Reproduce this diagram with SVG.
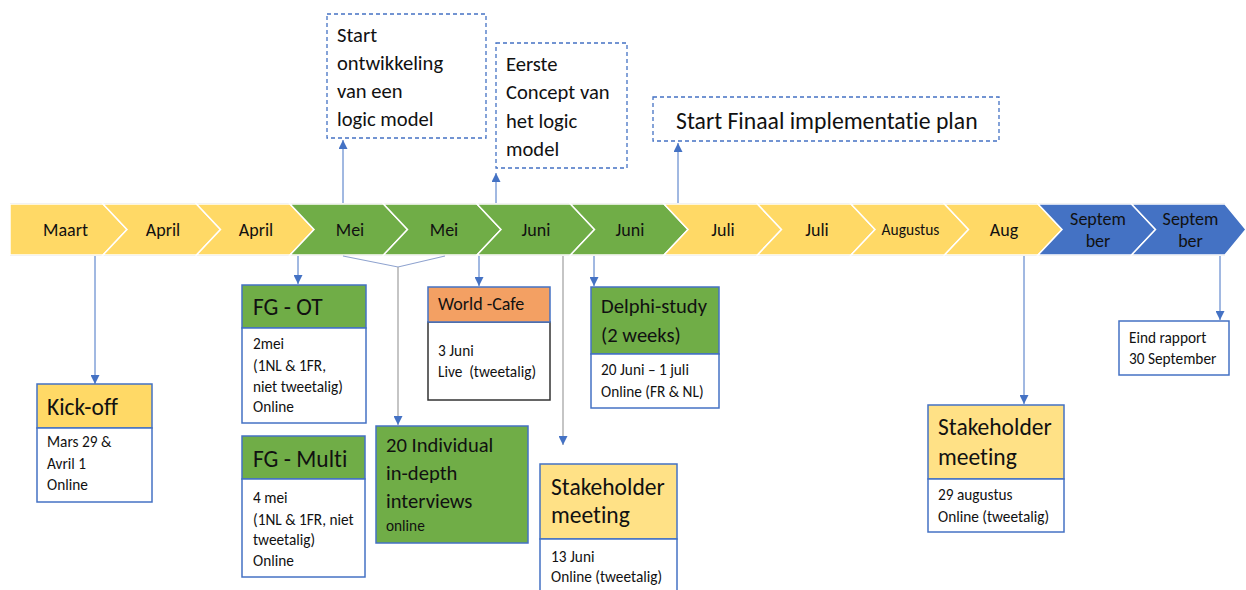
<svg xmlns="http://www.w3.org/2000/svg" width="1246" height="590" viewBox="0 0 1246 590">
<defs>
<style>
text{font-family:Carlito,Lato,"Liberation Sans",sans-serif;fill:#111111;font-variant-ligatures:none}
.band{font-size:18px;text-anchor:middle}
.chev{stroke:#ffffff;stroke-width:1.5}
.y{fill:#FFD966}.g{fill:#70AD47}.b{fill:#4472C4}
.box{stroke:#4472C4;stroke-width:1.5}
.white{fill:#ffffff}
.dash{fill:#ffffff;stroke:#4472C4;stroke-width:1.3;stroke-dasharray:4 3}
.big{font-size:20.6px}
.head{font-size:23.5px}
.body{font-size:15.3px}
.con{fill:none;stroke:#4472C4;stroke-width:1}
.gray{fill:none;stroke:#A6A6A6;stroke-width:1.3}
.vline{fill:none;stroke:#8FA3CF;stroke-width:1.2}
</style>
<marker id="ah" markerUnits="userSpaceOnUse" markerWidth="9" markerHeight="9" refX="9" refY="4.5" orient="auto">
<path d="M0,0 L9,4.5 L0,9 z" fill="#4472C4"/>
</marker>
</defs>
<rect width="1246" height="590" fill="#ffffff"/>

<g id="timeline">
<line x1="10" y1="203.5" x2="1225" y2="203.5" stroke="#C8C8C8" stroke-width="1"/>
<line x1="10" y1="255.5" x2="1225" y2="255.5" stroke="#C8C8C8" stroke-width="1"/>
<path class="chev y" d="M10,204 L103,204 L127,229.5 L103,255 L10,255 Z"/>
<path class="chev y" d="M103,204 L196.5,204 L220.5,229.5 L196.5,255 L103,255 L127,229.5 Z"/>
<path class="chev y" d="M196.5,204 L290,204 L314,229.5 L290,255 L196.5,255 L220.5,229.5 Z"/>
<path class="chev g" d="M290,204 L383.5,204 L407.5,229.5 L383.5,255 L290,255 L314,229.5 Z"/>
<path class="chev g" d="M383.5,204 L477,204 L501,229.5 L477,255 L383.5,255 L407.5,229.5 Z"/>
<path class="chev g" d="M477,204 L570.5,204 L594.5,229.5 L570.5,255 L477,255 L501,229.5 Z"/>
<path class="chev g" d="M570.5,204 L664,204 L688,229.5 L664,255 L570.5,255 L594.5,229.5 Z"/>
<path class="chev y" d="M664,204 L757.5,204 L781.5,229.5 L757.5,255 L664,255 L688,229.5 Z"/>
<path class="chev y" d="M757.5,204 L851,204 L875,229.5 L851,255 L757.5,255 L781.5,229.5 Z"/>
<path class="chev y" d="M851,204 L944.5,204 L968.5,229.5 L944.5,255 L851,255 L875,229.5 Z"/>
<path class="chev y" d="M944.5,204 L1038,204 L1062,229.5 L1038,255 L944.5,255 L968.5,229.5 Z"/>
<path class="chev b" d="M1038,204 L1131.5,204 L1155.5,229.5 L1131.5,255 L1038,255 L1062,229.5 Z"/>
<path class="chev b" d="M1131.5,204 L1225,204 L1246,229.5 L1225,255 L1131.5,255 L1155.5,229.5 Z"/>
<text class="band" x="65.5" y="235.5">Maart</text>
<text class="band" x="163" y="235.5">April</text>
<text class="band" x="256" y="235.5">April</text>
<text class="band" x="350" y="235.5">Mei</text>
<text class="band" x="444" y="235.5">Mei</text>
<text class="band" x="536" y="235.5">Juni</text>
<text class="band" x="630" y="235.5">Juni</text>
<text class="band" x="723" y="235.5">Juli</text>
<text class="band" x="817" y="235.5">Juli</text>
<text class="band" x="910.5" y="234.5" style="font-size:15.5px">Augustus</text>
<text class="band" x="1004" y="235.5">Aug</text>
<text class="band" x="1098" y="225">Septem</text>
<text class="band" x="1098" y="247">ber</text>
<text class="band" x="1190.5" y="225">Septem</text>
<text class="band" x="1190.5" y="247">ber</text>
</g>

<g id="connectors">
<path class="con" d="M343,203 V140" marker-end="url(#ah)"/>
<path class="con" d="M496,203 V173" marker-end="url(#ah)"/>
<path class="con" d="M678,203 V143" marker-end="url(#ah)"/>
<path class="con" d="M95,256 V384" marker-end="url(#ah)"/>
<path class="con" d="M298,256 V284" marker-end="url(#ah)"/>
<path class="vline" d="M343,256 L398,267 L445,256"/>
<path class="gray" d="M398,267 V425" marker-end="url(#ah)"/>
<path class="con" d="M479,256 V286" marker-end="url(#ah)"/>
<path class="gray" d="M563,256 V445" marker-end="url(#ah)"/>
<path class="con" d="M594,256 V286" marker-end="url(#ah)"/>
<path class="con" d="M1024,256 V404" marker-end="url(#ah)"/>
<path class="con" d="M1220,256 V320" marker-end="url(#ah)"/>
</g>

<g id="start-logic-model">
<rect class="dash" x="327" y="14" width="159" height="124"/>
<text class="big" x="337" y="42">Start</text>
<text class="big" x="337" y="70">ontwikkeling</text>
<text class="big" x="337" y="98">van een</text>
<text class="big" x="337" y="126">logic model</text>
</g>

<g id="eerste-concept">
<rect class="dash" x="496" y="43" width="131" height="125"/>
<text class="big" x="506" y="71">Eerste</text>
<text class="big" x="506" y="99">Concept van</text>
<text class="big" x="506" y="128">het logic</text>
<text class="big" x="506" y="156">model</text>
</g>

<g id="start-finaal">
<rect class="dash" x="653" y="97" width="346" height="44"/>
<text x="676" y="129" style="font-size:23.7px">Start Finaal implementatie plan</text>
</g>

<g id="kick-off">
<rect class="box y" x="37" y="384" width="115" height="44"/>
<rect class="box white" x="37" y="428" width="115" height="74"/>
<text class="head" x="47" y="415">Kick-off</text>
<text class="body" x="47" y="447">Mars 29 &amp;</text>
<text class="body" x="47" y="469">Avril 1</text>
<text class="body" x="47" y="490">Online</text>
</g>

<g id="fg-ot">
<rect class="box g" x="242" y="285" width="124" height="43"/>
<rect class="box white" x="242" y="328" width="124" height="95"/>
<text class="head" x="253" y="315">FG - OT</text>
<text class="body" x="253" y="349">2mei</text>
<text class="body" x="253" y="371">(1NL &amp; 1FR,</text>
<text class="body" x="253" y="392">niet tweetalig)</text>
<text class="body" x="253" y="412">Online</text>
</g>

<g id="fg-multi">
<rect class="box g" x="242" y="436" width="123" height="43"/>
<rect class="box white" x="242" y="479" width="123" height="98"/>
<text class="head" x="253" y="467">FG - Multi</text>
<text class="body" x="253" y="503">4 mei</text>
<text class="body" x="253" y="525">(1NL &amp; 1FR, niet</text>
<text class="body" x="253" y="545">tweetalig)</text>
<text class="body" x="253" y="566">Online</text>
</g>

<g id="individual-interviews">
<rect class="box g" x="376" y="426" width="152" height="117"/>
<text class="big" x="386" y="452">20 Individual</text>
<text class="big" x="386" y="480">in-depth</text>
<text class="big" x="386" y="508">interviews</text>
<text class="body" x="386" y="531">online</text>
</g>

<g id="world-cafe">
<rect x="428" y="322" width="122" height="78" fill="#ffffff" stroke="#333333" stroke-width="1.5"/>
<rect class="box" x="428" y="287" width="122" height="35" fill="#F3A063"/>
<text x="438" y="310" style="font-size:18px">World -Cafe</text>
<text class="body" x="438" y="356">3 Juni</text>
<text class="body" x="438" y="377" xml:space="preserve">Live  (tweetalig)</text>
</g>

<g id="delphi-study">
<rect class="box g" x="591" y="287" width="128" height="67"/>
<rect class="box white" x="591" y="354" width="128" height="54"/>
<text class="big" x="601" y="313">Delphi-study</text>
<text class="big" x="601" y="342">(2 weeks)</text>
<text class="body" x="601" y="375">20 Juni – 1 juli</text>
<text class="body" x="601" y="397">Online (FR &amp; NL)</text>
</g>

<g id="stakeholder-juni">
<rect class="box" x="540" y="464" width="137" height="75" fill="#FFE186"/>
<rect class="box white" x="540" y="539" width="137" height="60"/>
<text class="head" x="551" y="495">Stakeholder</text>
<text class="head" x="551" y="523">meeting</text>
<text class="body" x="551" y="562">13 Juni</text>
<text class="body" x="551" y="582">Online (tweetalig)</text>
</g>

<g id="stakeholder-augustus">
<rect class="box" x="928" y="405" width="136" height="74" fill="#FFE186"/>
<rect class="box white" x="928" y="479" width="136" height="53"/>
<text class="head" x="938" y="435">Stakeholder</text>
<text class="head" x="938" y="465">meeting</text>
<text class="body" x="938" y="500">29 augustus</text>
<text class="body" x="938" y="522">Online (tweetalig)</text>
</g>

<g id="eind-rapport">
<rect class="box white" x="1119" y="321" width="110" height="54"/>
<text class="body" x="1129" y="343">Eind rapport</text>
<text class="body" x="1129" y="364">30 September</text>
</g>
</svg>
